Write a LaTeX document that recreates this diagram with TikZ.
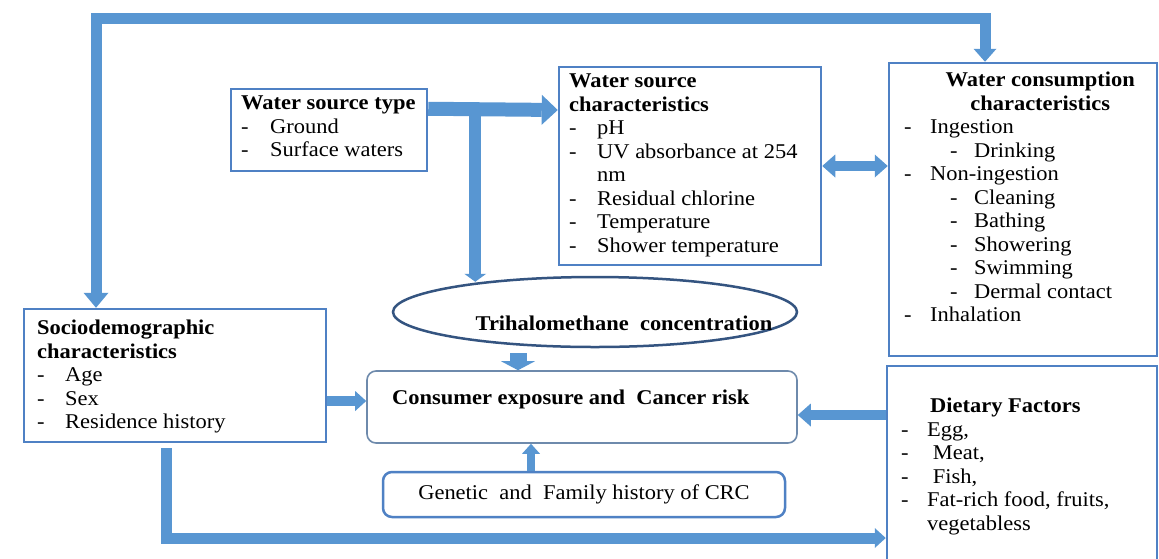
\documentclass[tikz,border=0pt]{standalone}
\usepackage{fontspec}
\setmainfont{Liberation Serif}[FakeStretch=1.07]
\usetikzlibrary{calc,shapes.geometric,arrows.meta}
\definecolor{arrowblue}{RGB}{88,150,210}
\definecolor{boxblue}{RGB}{79,129,196}
\definecolor{ellblue}{RGB}{52,84,128}
\definecolor{roundgrey}{RGB}{110,138,172}
\newcommand\dsh[1]{\makebox[#1][l]{-}}

\tikzset{
  box/.style={draw=boxblue, line width=2.5pt, rectangle, inner sep=0pt},
  rbox/.style={box, rounded corners=9pt},
  txt/.style={font=\fontsize{21}{23.5}\selectfont, align=left, inner sep=0pt, anchor=north west},
  btxt/.style={font=\fontsize{21}{23.5}\selectfont\bfseries, inner sep=0pt},
  fat/.style={draw=arrowblue, line width=11pt},
  flow/.style={draw=arrowblue, line width=10pt},
  bighead/.tip={Triangle[width=25pt,length=15pt,line width=0pt]},
  medhead/.tip={Triangle[width=23pt,length=13pt,line width=0pt]},
  smallhead/.tip={Triangle[width=20pt,length=11pt,line width=0pt]}
}

\begin{document}
\begin{tikzpicture}[x=1pt,y=-1pt]
  \fill[white] (0,0) rectangle (1159,558);
  \useasboundingbox (0,0) rectangle (1159,558); % same size as the figure

  % boxes
  \node[box, minimum width=196pt, minimum height=82pt] (wst) at (329,130) {};
  \node[box, minimum width=262pt, minimum height=198pt] (wsc) at (690,166) {};
  \node[box, minimum width=268pt, minimum height=293pt] (wcc) at (1023,209.5) {};
  \node[box, minimum width=302pt, minimum height=133pt] (soc) at (175,375.5) {};
  \node[rbox, draw=roundgrey, line width=1.6pt, minimum width=430pt, minimum height=72pt] (cons) at (582,407) {};
  \node[rbox, minimum width=402pt, minimum height=45pt, font=\fontsize{21}{23.5}\selectfont] (gen) at (584,494.5) {Genetic\ \ and\ \ Family history of CRC};
  \node[box, minimum width=270pt, minimum height=204pt] (diet) at (1022,468) {};
  \node[ellipse, draw=ellblue, line width=2.5pt, minimum width=404pt, minimum height=70pt, inner sep=0pt] (tha) at (595,312) {};

  % texts
  \node[txt] (wsttxt) at (241,96) {\textbf{Water source type}\\ \dsh{29pt}Ground\\ \dsh{29pt}Surface waters};
  \node[txt] (wsctxt) at (569,74) {\textbf{Water source}\\ \textbf{characteristics}\\
    \dsh{28pt}pH\\ \dsh{28pt}UV absorbance at 254\\ \hspace*{28pt}nm\\ \dsh{28pt}Residual chlorine\\
    \dsh{28pt}Temperature\\ \dsh{28pt}Shower temperature};
  \node[txt] (wcctxt) at (904,72) {\makebox[272pt][c]{\textbf{Water consumption}}\\ \makebox[272pt][c]{\textbf{characteristics}}\\
    \dsh{26pt}Ingestion\\ \hspace*{46pt}\dsh{24pt}Drinking\\ \dsh{26pt}Non-ingestion\\
    \hspace*{46pt}\dsh{24pt}Cleaning\\ \hspace*{46pt}\dsh{24pt}Bathing\\ \hspace*{46pt}\dsh{24pt}Showering\\
    \hspace*{46pt}\dsh{24pt}Swimming\\ \hspace*{46pt}\dsh{24pt}Dermal contact\\ \dsh{26pt}Inhalation};
  \node[txt] (soctxt) at (37,320) {\textbf{Sociodemographic}\\ \textbf{characteristics}\\
    \dsh{28pt}Age\\ \dsh{28pt}Sex\\ \dsh{28pt}Residence history};
  \node[btxt, anchor=west] (constxt) at (392,399) {Consumer exposure and\ \ Cancer risk};
  \node[btxt] (thatxt) at (624,323) {Trihalomethane\ \ concentration};
  \node[txt] (diettxt) at (901,398) {\hspace*{29pt}\textbf{Dietary Factors}\\ \dsh{26pt}Egg,\\ \dsh{26pt}\ Meat,\\
    \dsh{26pt}\ Fish,\\ \dsh{26pt}Fat-rich food, fruits,\\ \hspace*{26pt}vegetabless};

  % arrows
  \coordinate (tl) at (96,18);
  \coordinate (tr) at (985,18);
  \draw[fat, bighead-medhead] (tl |- soc.north) -- (tl) -- (tr) -- (tr |- wcc.north);
  \draw[draw=arrowblue, line width=14pt, -{Triangle[width=30pt,length=16pt,line width=0pt]}] ($(wst.north east)+(0,21)$) -- ($(wsc.west)+(0,-56)$);
  \coordinate (split) at ($(wst.north east)+(47,25)$);
  \draw[draw=arrowblue, line width=12pt, -{Triangle[width=22pt,length=8pt,line width=0pt]}, shorten >=-6pt] (split) -- (split |- tha.north);
  \draw[flow, medhead-medhead] (wsc.east) -- (wcc.west |- wsc.east);
  \draw[flow, -smallhead] ($(soc.east)+(0,25.5)$) -- ($(cons.west)+(0,-6)$);
  \draw[flow, -medhead] ($(diet.west)+(0,-53)$) -- ($(cons.east)+(0,8)$);
  \draw[draw=arrowblue, line width=17pt, -{Triangle[width=34pt,length=9pt,line width=0pt]}] ($(tha.south)+(-77,5)$) -- ($(cons.north)+(-64,0)$);
  \draw[draw=arrowblue, line width=8pt, -{Triangle[width=18pt,length=10pt,line width=0pt]}] ($(gen.north)+(-53,0)$) -- ($(cons.south)+(-51,0)$);
  \draw[fat, -smallhead] ($(soc.south)+(-9,5)$) |- ($(diet.west)+(0,70)$);
\end{tikzpicture}
\end{document}
